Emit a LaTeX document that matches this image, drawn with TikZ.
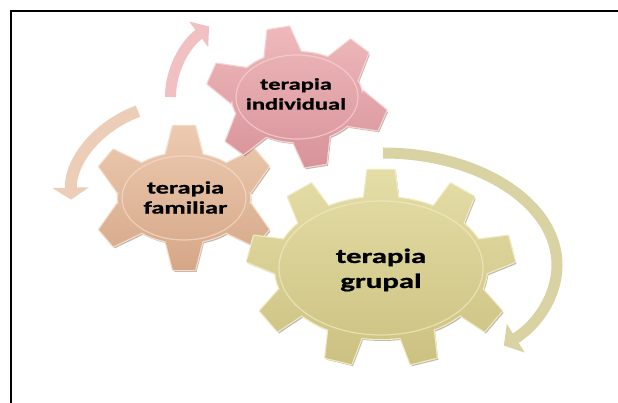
\documentclass[tikz,border=0pt]{standalone}
\usepackage{fontspec}
\newfontfamily\gearfont[BoldFeatures={FakeBold=0.8}]{Carlito}
\usetikzlibrary{arrows.meta}
\definecolor{pinkTop}{HTML}{EEB9BB}
\definecolor{pinkBot}{HTML}{D8939A}
\definecolor{pinkRim}{HTML}{F7D3D4}
\definecolor{pinkArr}{HTML}{F1C0C2}
\definecolor{tanTop}{HTML}{EDCAB0}
\definecolor{tanBot}{HTML}{D5A787}
\definecolor{tanRim}{HTML}{F5DDCB}
\definecolor{tanArr}{HTML}{ECCDB8}
\definecolor{oliTop}{HTML}{E4DDA6}
\definecolor{oliBot}{HTML}{CCC181}
\definecolor{oliRim}{HTML}{F0ECC4}
\definecolor{oliArr}{HTML}{D9D2A2}
% gear corner coordinates: #1 name, #2 cx, #3 cy, #4 rx, #5 ry, #6 teeth, #7 first angle, #8 tooth length, #9 base half width; \gearwt = tip half width
\newcommand\defgear[9]{%
  \foreach \k in {1,...,#6}{%
    \pgfmathsetmacro\th{#7+(\k-1)*360/#6}%
    \pgfmathsetmacro\nx{cos(\th)*#5}%
    \pgfmathsetmacro\ny{sin(\th)*#4}%
    \pgfmathsetmacro\nn{sqrt(\nx*\nx+\ny*\ny)}%
    \pgfmathsetmacro\ux{\nx/\nn}%
    \pgfmathsetmacro\uy{\ny/\nn}%
    \pgfmathsetmacro\px{#2+#4*cos(\th)}%
    \pgfmathsetmacro\py{#3+#5*sin(\th)}%
    \coordinate (#1-\k-a) at ({\px-4*\ux+#9*\uy},{\py-4*\uy-#9*\ux});
    \coordinate (#1-\k-b) at ({\px+#8*\ux+\gearwt*\uy},{\py+#8*\uy-\gearwt*\ux});
    \coordinate (#1-\k-c) at ({\px+#8*\ux-\gearwt*\uy},{\py+#8*\uy+\gearwt*\ux});
    \coordinate (#1-\k-d) at ({\px-4*\ux-#9*\uy},{\py-4*\uy+#9*\ux});
  }}
% gear outline: #1 name, #2 cx, #3 cy, #4 rx, #5 ry, #6 teeth
\newcommand\gearpath[6]{%
  ({#2+#4},#3) arc[start angle=0, end angle=360, x radius=#4, y radius=#5] -- cycle
  \foreach \k in {1,...,#6}{ (#1-\k-a) -- (#1-\k-b) -- (#1-\k-c) -- (#1-\k-d) -- cycle }}
\begin{document}
\begin{tikzpicture}[x=1pt,y=1pt,
  gshadow/.style={fill=black!60!brown, opacity=0.35},
  grim/.style={line width=2.4pt, line join=round},
  ginner/.style={line width=1.2pt, opacity=0.7},
  gtext/.style={align=center, xscale=1.5, text=black},
  arrP/.style={draw=pinkArr, line width=11pt, -{Triangle[width=31pt,length=13pt]}},
  arrT/.style={draw=tanArr, line width=12pt, -{Triangle[width=36pt,length=12pt]}},
  arrO/.style={draw=oliArr, line width=11pt, -{Triangle[width=33pt,length=14pt]}},
  frameline/.style={draw=black, line width=2pt}]
\useasboundingbox (0,0) rectangle (618,403);
\fill[white] (0,0) rectangle (618,403);
% frame
\coordinate (fTR) at (618,391.5);
\coordinate (fTL) at (10.5,391.5);
\coordinate (fBL) at (10.5,0);
\draw[frameline] (fTR) -- (fTL) -- (fBL);
% curved arrows
\coordinate (aP) at (170.5,306);
\coordinate (aT) at (138.0,291.8);
\coordinate (aO) at (383,250);
\draw[arrP] (aP) arc[start angle=180, end angle=134, x radius=126.5, y radius=98];
\draw[arrT] (aT) arc[start angle=114, end angle=181, x radius=113, y radius=95];
\draw[arrO] (aO) arc[start angle=90, end angle=-46, x radius=174, y radius=112];
% gear geometry
\def\gearwt{11}
\defgear{gT}{184}{205}{66}{45}{6}{90}{27}{19}
\defgear{gP}{297}{306}{65}{45}{6}{103}{25}{19}
\def\gearwt{13.5}
\defgear{gO}{381}{135}{106}{71}{9}{90}{27}{17.5}
% tan gear (terapia familiar)
\begin{scope}[transform canvas={xshift=1.5pt,yshift=-2pt}]
  \fill[gshadow] \gearpath{gT}{184}{205}{66}{45}{6};
\end{scope}
\draw[grim, tanRim] \gearpath{gT}{184}{205}{66}{45}{6};
\shade[top color=tanTop, bottom color=tanBot] \gearpath{gT}{184}{205}{66}{45}{6};
\draw[ginner, tanRim] (184,205) ellipse[x radius=62, y radius=42];
% pink gear (terapia individual)
\begin{scope}[transform canvas={xshift=1.5pt,yshift=-2pt}]
  \fill[gshadow] \gearpath{gP}{297}{306}{65}{45}{6};
\end{scope}
\draw[grim, pinkRim] \gearpath{gP}{297}{306}{65}{45}{6};
\shade[top color=pinkTop, bottom color=pinkBot] \gearpath{gP}{297}{306}{65}{45}{6};
\draw[ginner, pinkRim] (297,306) ellipse[x radius=61, y radius=42];
% olive gear (terapia grupal)
\begin{scope}[transform canvas={xshift=1.5pt,yshift=-2pt}]
  \fill[gshadow] \gearpath{gO}{381}{135}{106}{71}{9};
\end{scope}
\draw[grim, oliRim] \gearpath{gO}{381}{135}{106}{71}{9};
\shade[top color=oliTop, bottom color=oliBot] \gearpath{gO}{381}{135}{106}{71}{9};
\draw[ginner, oliRim] (381,135) ellipse[x radius=102, y radius=67];
% texts
\node[gtext, font=\gearfont\bfseries\fontsize{16.3}{20}\selectfont] (tInd) at (296,309) {terapia\\individual};
\node[gtext, font=\gearfont\bfseries\fontsize{17.5}{20}\selectfont] (tFam) at (185.5,205.5) {terapia\\familiar};
\node[gtext, font=\gearfont\bfseries\fontsize{20.5}{25}\selectfont] (tGru) at (381,133) {terapia\\grupal};
\end{tikzpicture}
\end{document}
